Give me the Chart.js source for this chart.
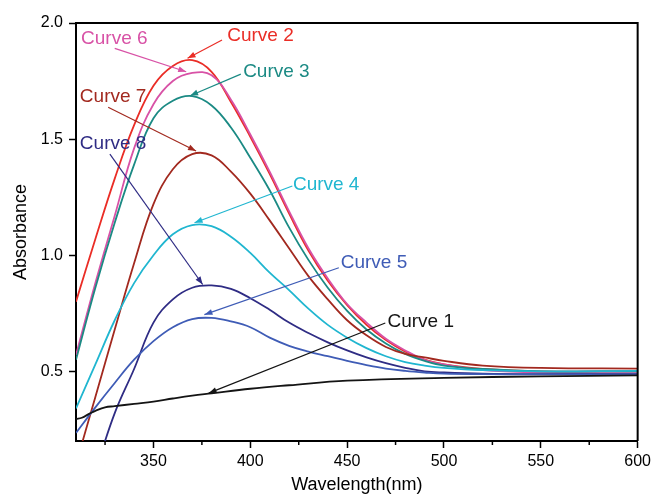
<!DOCTYPE html>
<html>
<head>
<meta charset="utf-8">
<title>Absorbance spectra</title>
<script src="https://cdn.jsdelivr.net/npm/chart.js@4.4.1/dist/chart.umd.min.js"></script>
<style>
  html, body { margin: 0; padding: 0; background: #fff; }
  #wrap { width: 655px; height: 497px; }
</style>
</head>
<body>
<div id="wrap"><canvas id="spectra" width="655" height="497"></canvas></div>
<script>
// wavelengths (nm) shared by curves 2-8
const wavelengths = [310, 320, 330, 340, 350, 360, 370, 380, 390, 400, 410, 420, 430, 440, 450, 460, 470, 480, 490, 500, 520, 550, 600];

const curve2 = [0.80, 1.07, 1.33, 1.56, 1.73, 1.815, 1.84, 1.79, 1.66, 1.51, 1.35, 1.18, 1.02, 0.89, 0.785, 0.70, 0.635, 0.585, 0.55, 0.53, 0.51, 0.50, 0.50];
const curve6 = [0.57, 0.88, 1.17, 1.46, 1.65, 1.75, 1.785, 1.775, 1.67, 1.52, 1.36, 1.19, 1.03, 0.90, 0.79, 0.71, 0.64, 0.59, 0.55, 0.53, 0.505, 0.495, 0.492];
const curve3 = [0.55, 0.86, 1.14, 1.39, 1.59, 1.665, 1.685, 1.645, 1.55, 1.42, 1.28, 1.12, 0.98, 0.86, 0.76, 0.68, 0.62, 0.575, 0.545, 0.525, 0.51, 0.50, 0.50];
const curve7 = [0.10, 0.39, 0.68, 0.965, 1.22, 1.37, 1.435, 1.43, 1.36, 1.265, 1.15, 1.03, 0.91, 0.81, 0.72, 0.655, 0.605, 0.575, 0.56, 0.545, 0.525, 0.515, 0.512];
const curve4 = [0.34, 0.53, 0.72, 0.88, 1.00, 1.09, 1.13, 1.125, 1.08, 1.01, 0.925, 0.85, 0.77, 0.70, 0.645, 0.60, 0.565, 0.54, 0.525, 0.515, 0.505, 0.50, 0.502];
const curve8 = [-0.18, 0.07, 0.32, 0.51, 0.71, 0.81, 0.86, 0.87, 0.855, 0.815, 0.765, 0.71, 0.665, 0.625, 0.59, 0.56, 0.535, 0.515, 0.50, 0.495, 0.49, 0.488, 0.488];
const curve5 = [0.235, 0.345, 0.45, 0.55, 0.63, 0.69, 0.725, 0.73, 0.715, 0.69, 0.645, 0.61, 0.585, 0.565, 0.545, 0.527, 0.512, 0.502, 0.495, 0.49, 0.488, 0.487, 0.487];

// curve 1 is sampled on its own grid (kink near 315 nm)
const wavelengths1 = [310, 313, 317, 320, 325, 330, 340, 350, 360, 370, 380, 400, 420, 450, 500, 550, 600];
const curve1 = [0.295, 0.30, 0.318, 0.33, 0.345, 0.35, 0.36, 0.37, 0.383, 0.395, 0.405, 0.425, 0.44, 0.46, 0.472, 0.478, 0.483];

const xTicks = [350, 400, 450, 500, 550, 600];
const xMinorTicks = [325, 375, 425, 475, 525, 575];
const yTicks = [0.5, 1.0, 1.5, 2.0];

const FONT = "'Liberation Sans', Arial, Helvetica, sans-serif";

const colors = {
  c1: '#141414',
  c2: '#ea2d26',
  c3: '#1b8a84',
  c4: '#20b6d0',
  c5: '#3f5cb6',
  c6: '#d852a6',
  c7: '#a2291f',
  c8: '#2f2c84'
};

function toPoints(xs, ys) {
  return xs.map((x, i) => ({ x: x, y: ys[i] }));
}

function series(label, xs, ys, color) {
  return {
    label: label,
    data: toPoints(xs, ys),
    borderColor: color,
    borderWidth: 1.8,
    pointRadius: 0,
    fill: false,
    tension: 0.4
  };
}

// callout labels with leader arrows, in data units (text anchored left / middle)
const callouts = [
  { text: 'Curve 6', color: colors.c6, at: [312.6, 1.931], from: [330.0, 1.891], to: [366.9, 1.790] },
  { text: 'Curve 2', color: colors.c2, at: [388.1, 1.944], from: [385.4, 1.927], to: [367.6, 1.848] },
  { text: 'Curve 3', color: colors.c3, at: [396.3, 1.789], from: [395.1, 1.780], to: [368.9, 1.687] },
  { text: 'Curve 7', color: colors.c7, at: [312.0, 1.681], from: [326.6, 1.637], to: [372.0, 1.449] },
  { text: 'Curve 8', color: colors.c8, at: [312.0, 1.478], from: [327.5, 1.435], to: [375.4, 0.874] },
  { text: 'Curve 4', color: colors.c4, at: [422.0, 1.305], from: [421.7, 1.298], to: [371.2, 1.140] },
  { text: 'Curve 5', color: colors.c5, at: [446.7, 0.969], from: [445.7, 0.946], to: [376.3, 0.744] },
  { text: 'Curve 1', color: colors.c1, at: [470.8, 0.714], from: [469.7, 0.708], to: [378.5, 0.406] }
];

// frame on top/right, minor x ticks and the callouts
const decorations = {
  id: 'decorations',
  afterDatasetsDraw(chart) {
    const { ctx, chartArea: a, scales } = chart;
    const xs = scales.x, ys = scales.y;
    ctx.save();

    ctx.strokeStyle = '#000';
    ctx.lineWidth = 2;
    ctx.beginPath();
    ctx.moveTo(a.left, a.top);
    ctx.lineTo(a.right, a.top);
    ctx.lineTo(a.right, a.bottom);
    ctx.stroke();

    ctx.lineWidth = 1.5;
    xMinorTicks.forEach(v => {
      const px = xs.getPixelForValue(v);
      ctx.beginPath();
      ctx.moveTo(px, a.bottom);
      ctx.lineTo(px, a.bottom + 4);
      ctx.stroke();
    });

    callouts.forEach(c => {
      const x0 = xs.getPixelForValue(c.from[0]), y0 = ys.getPixelForValue(c.from[1]);
      const x1 = xs.getPixelForValue(c.to[0]), y1 = ys.getPixelForValue(c.to[1]);
      ctx.strokeStyle = c.color;
      ctx.fillStyle = c.color;
      ctx.lineWidth = 1.2;
      ctx.beginPath();
      ctx.moveTo(x0, y0);
      ctx.lineTo(x1, y1);
      ctx.stroke();

      // arrow head
      const ang = Math.atan2(y1 - y0, x1 - x0);
      const len = 8, half = 3;
      ctx.beginPath();
      ctx.moveTo(x1, y1);
      ctx.lineTo(x1 - len * Math.cos(ang) + half * Math.sin(ang), y1 - len * Math.sin(ang) - half * Math.cos(ang));
      ctx.lineTo(x1 - len * Math.cos(ang) - half * Math.sin(ang), y1 - len * Math.sin(ang) + half * Math.cos(ang));
      ctx.closePath();
      ctx.fill();

      ctx.font = '19px ' + FONT;
      ctx.textAlign = 'left';
      ctx.textBaseline = 'middle';
      ctx.fillText(c.text, xs.getPixelForValue(c.at[0]), ys.getPixelForValue(c.at[1]));
    });

    ctx.restore();
  }
};

const ctx = document.getElementById('spectra').getContext('2d');
const spectraChart = new Chart(ctx, {
  type: 'line',
  data: {
    datasets: [
      series('Curve 1', wavelengths1, curve1, colors.c1),
      series('Curve 5', wavelengths, curve5, colors.c5),
      series('Curve 8', wavelengths, curve8, colors.c8),
      series('Curve 4', wavelengths, curve4, colors.c4),
      series('Curve 7', wavelengths, curve7, colors.c7),
      series('Curve 3', wavelengths, curve3, colors.c3),
      series('Curve 6', wavelengths, curve6, colors.c6),
      series('Curve 2', wavelengths, curve2, colors.c2)
    ]
  },
  options: {
    responsive: false,
    animation: false,
    layout: { padding: { top: 23, right: 16, left: 0, bottom: 0 } },
    plugins: {
      legend: { display: false },
      tooltip: { enabled: false }
    },
    scales: {
      x: {
        type: 'linear',
        min: 310,
        max: 600,
        afterBuildTicks: scale => { scale.ticks = xTicks.map(v => ({ value: v })); },
        afterFit: scale => { scale.height = 56; },
        grid: { drawOnChartArea: false, tickLength: 7, tickColor: '#000', tickWidth: 1.5 },
        border: { color: '#000', width: 2 },
        ticks: { color: '#000', font: { family: FONT, size: 16 }, padding: 4, maxRotation: 0 },
        title: { display: true, text: 'Wavelength(nm)', color: '#000', font: { family: FONT, size: 18 }, padding: { top: 2, bottom: 1 } }
      },
      y: {
        type: 'linear',
        min: 0.2,
        max: 2.0,
        afterBuildTicks: scale => { scale.ticks = yTicks.map(v => ({ value: v })); },
        afterFit: scale => { scale.width = 76; },
        grid: { drawOnChartArea: false, tickLength: 7, tickColor: '#000', tickWidth: 1.5 },
        border: { color: '#000', width: 2 },
        ticks: { color: '#000', font: { family: FONT, size: 16 }, padding: 6, callback: v => v.toFixed(1) },
        title: { display: true, text: 'Absorbance', color: '#000', font: { family: FONT, size: 18 }, padding: { top: 10, bottom: 4 } }
      }
    }
  },
  plugins: [decorations]
});
</script>
</body>
</html>
